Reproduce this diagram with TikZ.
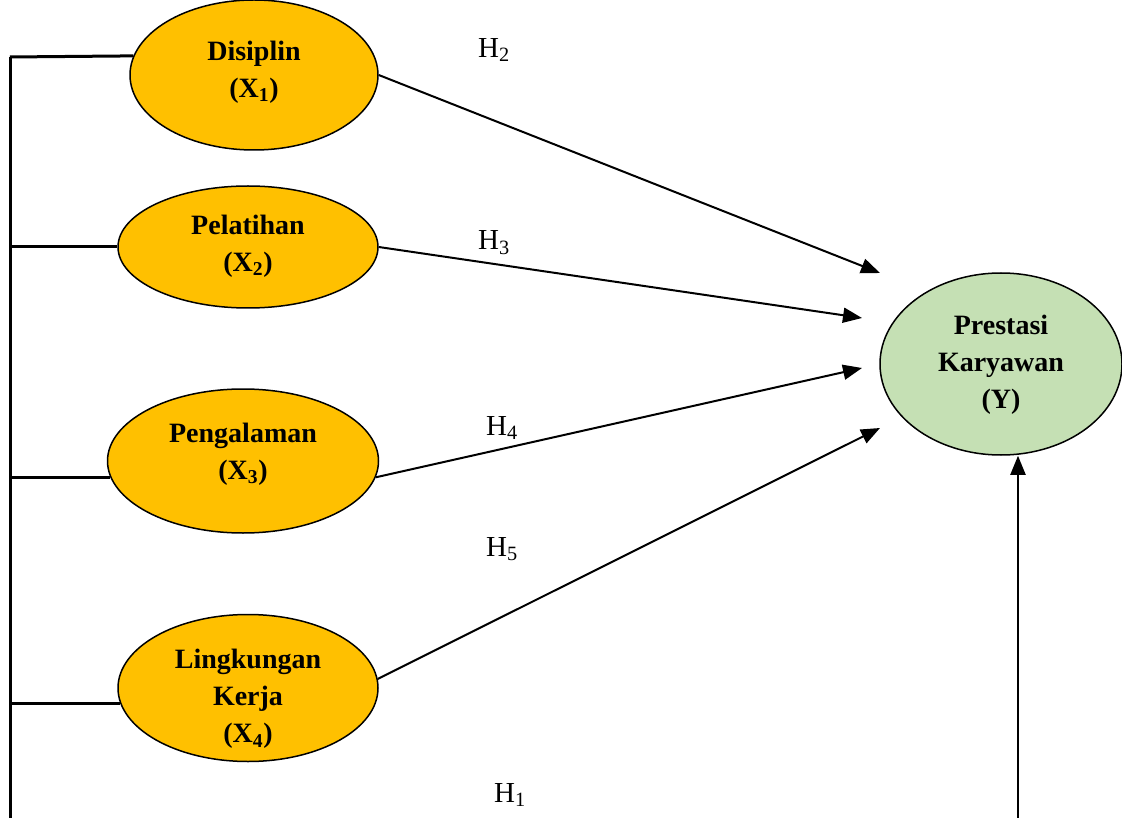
\documentclass[tikz,border=0pt]{standalone}
\usepackage{fontspec}
\setmainfont{Liberation Serif}
\usetikzlibrary{shapes.geometric,arrows.meta}
\definecolor{varorange}{HTML}{FFC000}
\definecolor{vargreen}{HTML}{C5E0B4}

\begin{document}
\begin{tikzpicture}[x=1pt,y=-1pt,>={Triangle[length=19pt,width=15pt]},
      var/.style={ellipse,draw,line width=1.5pt,fill=varorange,inner sep=0pt},
      vartext/.style={align=center,inner sep=0pt,font=\fontsize{28}{37}\selectfont\bfseries},
      hyp/.style={font=\fontsize{29}{32}\selectfont},
      link/.style={line width=2pt},
      rail/.style={line width=3pt}]
  \useasboundingbox (0,0) rectangle (1122,818);
  % variables
  \node[var,minimum width=248pt,minimum height=150pt] (dis) at (254,75) {};
  \node[var,minimum width=260pt,minimum height=122pt] (pel) at (248,247) {};
  \node[var,minimum width=271pt,minimum height=144pt] (peng) at (243,461) {};
  \node[var,minimum width=260pt,minimum height=147pt] (ling) at (248,688) {};
  \node[var,fill=vargreen,minimum width=242pt,minimum height=182pt] (Y) at (1001,364) {};
  \node[vartext] (distext) at (254,72) {Disiplin\\(X\textsubscript{1})};
  \node[vartext] (peltext) at (248,246) {Pelatihan\\(X\textsubscript{2})};
  \node[vartext] (pengtext) at (243,454) {Pengalaman\\(X\textsubscript{3})};
  \node[vartext] (lingtext) at (248,699) {Lingkungan\\Kerja\\(X\textsubscript{4})};
  \node[vartext] (Ytext) at (1001,365) {Prestasi\\Karyawan\\(Y)};
  % free ends
  \coordinate (railtop) at (10,57);
  \coordinate (railbot) at (10,818);
  \coordinate (ybot) at (1018,818);
  \coordinate (t1) at (880,273);
  \coordinate (t2) at (862,318);
  \coordinate (t3) at (862,368);
  \coordinate (t4) at (880,428);
  % hypotheses
  \node[hyp] (h2) at (494,50) {H\textsubscript{2}};
  \node[hyp] (h3) at (494,243) {H\textsubscript{3}};
  \node[hyp] (h4) at (502,428) {H\textsubscript{4}};
  \node[hyp] (h5) at (502,549) {H\textsubscript{5}};
  \node[hyp] (h1) at (510,795) {H\textsubscript{1}};
  % rail on the left
  \draw[rail] (railtop) -- (railbot);
  \draw[rail] (railtop) -- (dis.171);
  \draw[rail] (pel.west -| railtop) -- (pel.west);
  \draw[rail] (peng.187 -| railtop) -- (peng.187);
  \draw[rail] (ling.187 -| railtop) -- (ling.187);
  % arrows
  \draw[link,->] (dis.east) -- (t1);
  \draw[link,->] (pel.east) -- (t2);
  \draw[link,->] (peng.-7) -- (t3);
  \draw[link,->] (ling.4) -- (t4);
  \draw[link,->] (ybot) -- (ybot |- Y.south);
\end{tikzpicture}
\end{document}
